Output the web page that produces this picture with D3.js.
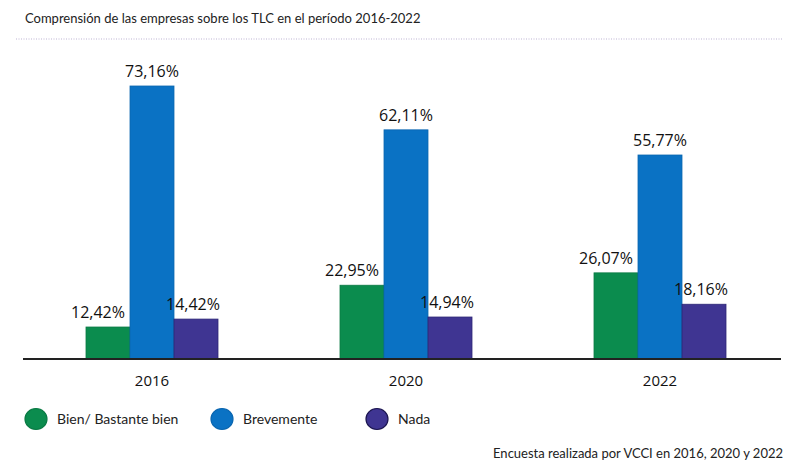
<!DOCTYPE html>
<meta charset="utf-8">
<script src="https://d3js.org/d3.v7.min.js"></script>
<style>
  body { margin: 0; background: #fff; }
</style>
<div id="chart"></div>
<script>
  // data
  var years = ["2016", "2020", "2022"];
  var seriesNames = ["Bien/ Bastante bien", "Brevemente", "Nada"];
  var bien = [12.42, 22.95, 26.07];
  var brevemente = [73.16, 62.11, 55.77];
  var nada = [14.42, 14.94, 18.16];
  var title = "Comprensión de las empresas sobre los TLC en el período 2016-2022";
  var note = "Encuesta realizada por VCCI en 2016, 2020 y 2022";

  var values = [bien, brevemente, nada];
  var colors = ["#0b8c4e", "#0a72c4", "#3f3592"];
  var strokes = ["#0a7a44", "#0a66b0", "#2d2676"];
  var labelShift = [-10, 0, -3];

  var width = 800, height = 466;
  var baseY = 359;

  var svg = d3.select("#chart")
    .append("svg")
    .attr("width", width)
    .attr("height", height);

  // title + dotted rule
  svg.append("text")
    .attr("x", 25)
    .attr("y", 23)
    .style("font-family", "Lato, 'Noto Sans', sans-serif")
    .style("font-size", "13px")
    .style("fill", "#222")
    .text(title);

  svg.append("line")
    .attr("x1", 16).attr("x2", 782)
    .attr("y1", 39).attr("y2", 39)
    .attr("stroke", "#bdb3d3")
    .attr("stroke-width", 1)
    .attr("stroke-dasharray", "1,1.5");

  // scales
  var x0 = d3.scaleBand().domain(years).range([25, 787]);
  var groupW = 132;
  var x1 = d3.scaleBand().domain(d3.range(seriesNames.length)).range([0, groupW]);
  // the original bars are not drawn from zero
  var y = d3.scaleLinear().domain([4.36, 73.16]).range([baseY, 86]);

  var fmt = d3.formatLocale({ decimal: ",", thousands: ".", grouping: [3], currency: ["", "€"] }).format(".2f");

  var rows = [];
  years.forEach(function (yr, i) {
    values.forEach(function (arr, s) {
      rows.push({ year: yr, s: s, v: arr[i] });
    });
  });

  function barX(d) {
    return x0(d.year) + (x0.bandwidth() - groupW) / 2 + x1(d.s);
  }

  svg.append("g")
    .selectAll("rect")
    .data(rows)
    .enter()
    .append("rect")
    .attr("x", barX)
    .attr("y", function (d) { return y(d.v); })
    .attr("width", x1.bandwidth())
    .attr("height", function (d) { return baseY - y(d.v); })
    .attr("fill", function (d) { return colors[d.s]; })
    .attr("stroke", function (d) { return strokes[d.s]; })
    .attr("stroke-width", 0.8);

  svg.append("g")
    .selectAll("text")
    .data(rows)
    .enter()
    .append("text")
    .attr("x", function (d) { return barX(d) + x1.bandwidth() / 2 + labelShift[d.s]; })
    .attr("y", function (d) { return y(d.v) - 9; })
    .attr("text-anchor", "middle")
    .style("font-family", "'Open Sans', sans-serif")
    .style("font-size", "16px")
    .style("fill", "#111")
    .text(function (d) { return fmt(d.v) + "%"; });

  // x axis
  svg.append("line")
    .attr("x1", 23).attr("x2", 781)
    .attr("y1", baseY).attr("y2", baseY)
    .attr("stroke", "#222")
    .attr("stroke-width", 2);

  var ax = svg.append("g")
    .attr("transform", "translate(0," + baseY + ")")
    .call(d3.axisBottom(x0).tickSize(0).tickPadding(16));
  ax.select(".domain").remove();
  ax.selectAll("text")
    .style("font-family", "'Open Sans', sans-serif")
    .style("font-size", "15px")
    .style("font-weight", "500")
    .style("fill", "#111");

  // legend
  var legX = [36, 222, 377];
  var leg = svg.append("g")
    .selectAll("g")
    .data(seriesNames)
    .enter()
    .append("g")
    .attr("transform", function (d, i) { return "translate(" + legX[i] + ",419)"; });
  leg.append("ellipse")
    .attr("rx", 11).attr("ry", 10.5)
    .attr("fill", function (d, i) { return colors[i]; })
    .attr("stroke", function (d, i) { return i == 2 ? "#1c1650" : strokes[i]; })
    .attr("stroke-width", 1.2);
  leg.append("text")
    .attr("x", 21)
    .attr("y", 5)
    .style("font-family", "Lato, 'Noto Sans', sans-serif")
    .style("font-size", "14px")
    .style("fill", "#222")
    .text(function (d) { return d; });

  svg.append("text")
    .attr("x", 783)
    .attr("y", 458)
    .attr("text-anchor", "end")
    .style("font-family", "Lato, 'Noto Sans', sans-serif")
    .style("font-size", "13px")
    .style("fill", "#222")
    .text(note);
</script>
